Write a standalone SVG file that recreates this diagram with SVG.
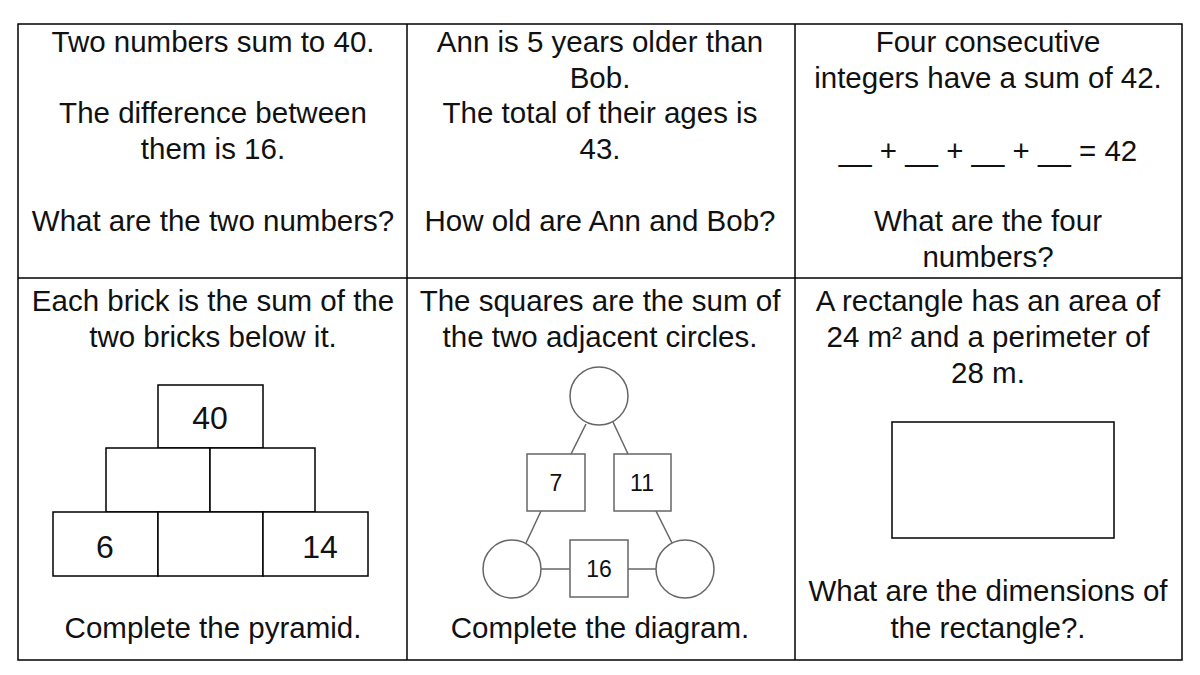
<svg xmlns="http://www.w3.org/2000/svg" width="1200" height="675" viewBox="0 0 1200 675">
<style>
text{font-family:"Liberation Sans",Arial,sans-serif;font-size:29.5px;fill:#111;text-anchor:middle}
.g{fill:#fff;stroke:#000;stroke-width:1.5}
.s{fill:#fff;stroke:#666;stroke-width:1.5}
.l{stroke:#666;stroke-width:1.5}
.n{font-size:23px}
.p{font-size:32px}
</style>
<rect width="1200" height="675" fill="#fff"/>
<g id="table" fill="none" stroke="#000" stroke-width="1.5">
<rect x="18" y="24" width="1164" height="636"/>
<line x1="18" y1="278" x2="1182" y2="278"/>
<line x1="407" y1="24" x2="407" y2="660"/>
<line x1="795" y1="24" x2="795" y2="660"/>
</g>
<g id="cell1">
<text x="213" y="52">Two numbers sum to 40.</text>
<text x="213" y="123">The difference between</text>
<text x="213" y="159">them is 16.</text>
<text x="213" y="231">What are the two numbers?</text>
</g>
<g id="cell2">
<text x="600" y="52">Ann is 5 years older than</text>
<text x="600" y="88">Bob.</text>
<text x="600" y="123">The total of their ages is</text>
<text x="600" y="159">43.</text>
<text x="600" y="231">How old are Ann and Bob?</text>
</g>
<g id="cell3">
<text x="988" y="52">Four consecutive</text>
<text x="988" y="88">integers have a sum of 42.</text>
<text x="988" y="161">__ + __ + __ + __ = 42</text>
<text x="988" y="231">What are the four</text>
<text x="988" y="267">numbers?</text>
</g>
<g id="cell4">
<text x="213" y="311">Each brick is the sum of the</text>
<text x="213" y="347">two bricks below it.</text>
<rect class="g" x="158" y="385" width="105" height="63"/>
<rect class="g" x="106" y="448" width="104" height="64"/>
<rect class="g" x="210" y="448" width="105" height="64"/>
<rect class="g" x="53" y="512" width="105" height="64"/>
<rect class="g" x="158" y="512" width="105" height="64"/>
<rect class="g" x="263" y="512" width="105" height="64"/>
<text class="p" x="210" y="429">40</text>
<text class="p" x="105" y="558">6</text>
<text class="p" x="320" y="558">14</text>
<text x="213" y="638">Complete the pyramid.</text>
</g>
<g id="cell5">
<text x="600" y="311">The squares are the sum of</text>
<text x="600" y="347">the two adjacent circles.</text>
<g id="connectors">
<line class="l" x1="586" y1="424" x2="571" y2="454"/>
<line class="l" x1="613" y1="422" x2="628" y2="454"/>
<line class="l" x1="541" y1="511" x2="526" y2="543"/>
<line class="l" x1="656" y1="511" x2="672" y2="543"/>
<line class="l" x1="541" y1="569" x2="570" y2="569"/>
<line class="l" x1="628" y1="569" x2="656" y2="569"/>
</g>
<circle class="s" cx="599" cy="396" r="29"/>
<circle class="s" cx="512" cy="569" r="29"/>
<circle class="s" cx="685" cy="569" r="29"/>
<rect class="s" x="527" y="454" width="58" height="57"/>
<rect class="s" x="614" y="454" width="57" height="57"/>
<rect class="s" x="570" y="540" width="58" height="57"/>
<text class="n" x="556" y="491">7</text>
<text class="n" x="642" y="491">11</text>
<text class="n" x="599" y="577">16</text>
<text x="600" y="638">Complete the diagram.</text>
</g>
<g id="cell6">
<text x="988" y="311">A rectangle has an area of</text>
<text x="988" y="347">24 m² and a perimeter of</text>
<text x="988" y="383">28 m.</text>
<rect class="g" x="892" y="422" width="222" height="116"/>
<text x="988" y="601">What are the dimensions of</text>
<text x="988" y="638">the rectangle?.</text>
</g>
</svg>
